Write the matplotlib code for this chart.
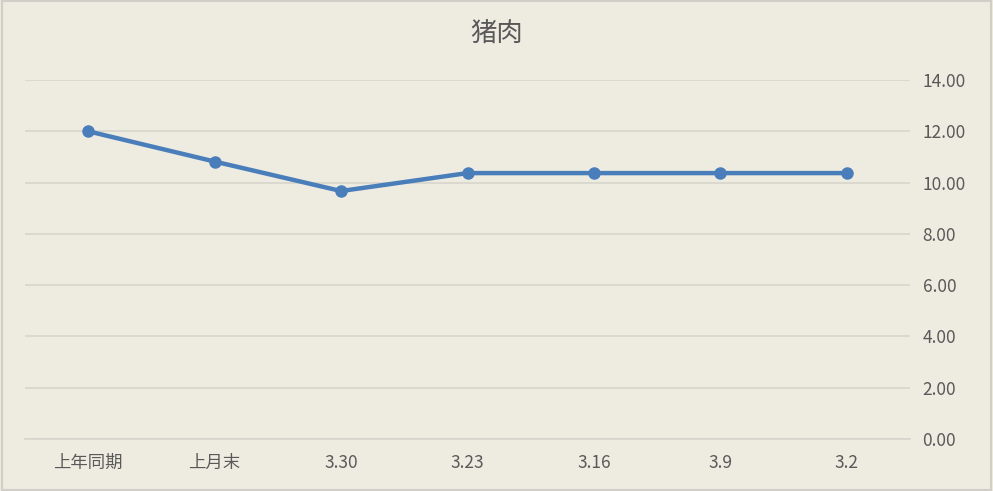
import matplotlib.pyplot as plt
from matplotlib.patches import Rectangle

plt.rcParams['font.family'] = ['Noto Sans CJK SC', 'DejaVu Sans']

# categories (left to right as shown) and prices
categories = ['上年同期', '上月末', '3.30', '3.23', '3.16', '3.9', '3.2']
prices = [12.00, 10.82, 9.67, 10.37, 10.37, 10.37, 10.37]
y_ticks = [0, 2, 4, 6, 8, 10, 12, 14]
title = '猪肉'

bg = '#EEECE1'
line_color = '#4A7EBB'
text_color = '#595959'

fig = plt.figure(figsize=(9.93, 4.91), dpi=100, facecolor=bg)
ax = fig.add_axes([25 / 993, 1 - 439 / 491, 885 / 993, 359 / 491])
ax.set_facecolor(bg)

x = list(range(len(categories)))
ax.plot(x, prices, color=line_color, linewidth=3.2, marker='o',
        markersize=8, solid_capstyle='round', zorder=3)

ax.set_xlim(-0.5, len(categories) - 0.5)
ax.set_ylim(0, 14)
ax.set_yticks(y_ticks)
ax.set_yticklabels([f'{v:.2f}' for v in y_ticks])
ax.set_xticks(x)
ax.set_xticklabels(categories)

ax.yaxis.tick_right()
ax.tick_params(axis='y', length=0, pad=9, labelsize=12.5, labelcolor=text_color)
ax.tick_params(axis='x', length=0, pad=11, labelsize=12.5, labelcolor=text_color)

ax.grid(axis='y', color='#D6D4CC', linewidth=1.2)
ax.set_axisbelow(True)
for side in ['top', 'left', 'right']:
    ax.spines[side].set_visible(False)
ax.spines['bottom'].set_color('#D6D4CC')
ax.spines['bottom'].set_linewidth(1.2)

fig.text(0.5, 1 - 34 / 491, title, ha='center', va='center',
         fontsize=19, color=text_color)

# thin frame around the chart area
fig.patches.append(Rectangle((0.002, 0.003), 0.996, 0.994, transform=fig.transFigure,
                             fill=False, edgecolor='#D0CEC6', linewidth=1.5))

fig.savefig('out.png', dpi=100, facecolor=bg)
